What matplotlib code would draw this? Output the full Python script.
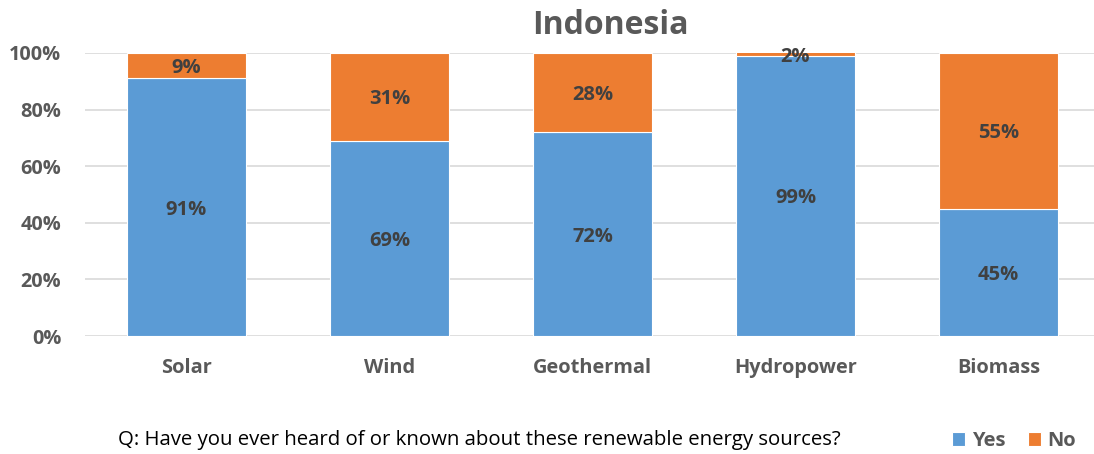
import numpy as np
import matplotlib.pyplot as plt

plt.rcParams['font.family'] = ['Open Sans', 'DejaVu Sans']

sources = ["Solar", "Wind", "Geothermal", "Hydropower", "Biomass"]
yes_pct = [91, 69, 72, 99, 45]
no_pct = [9, 31, 28, 2, 55]
yticks = [0, 20, 40, 60, 80, 100]

BLUE = "#5B9BD5"
ORANGE = "#ED7D31"
GRAY = "#595959"
DARK = "#404040"

fig = plt.figure(figsize=(10.94, 4.54), dpi=100)
ax = fig.add_axes([85 / 1094, 118 / 454, 1015 / 1094, 283 / 454])

x = np.arange(len(sources))
width = 0.586
yes = np.array(yes_pct, dtype=float)
no = np.array(no_pct, dtype=float)

ax.bar(x, yes, width, color=BLUE, edgecolor="white", linewidth=0.8, zorder=2, label="Yes")
ax.bar(x, no, width, bottom=yes, color=ORANGE, edgecolor="white", linewidth=0.8, zorder=2, label="No")

ax.set_xlim(-0.5, len(sources) - 0.5)
ax.set_ylim(0, 100)

# labels sit in the middle of the visible part of each segment
for i in range(len(sources)):
    ax.text(x[i], yes[i] / 2, f"{yes_pct[i]}%", ha="center", va="center_baseline",
            fontsize=14.5, fontweight="bold", color=DARK, zorder=3)
    lo = min(yes[i], 100)
    hi = min(yes[i] + no[i], 100)
    ax.text(x[i], (lo + hi) / 2, f"{no_pct[i]}%", ha="center", va="center_baseline",
            fontsize=14.5, fontweight="bold", color=DARK, zorder=3)

ax.set_yticks(yticks)
ax.set_yticklabels([f"{t}%" for t in yticks], fontsize=14.3, fontweight="bold", color=GRAY)
ax.set_xticks(x)
ax.set_xticklabels(sources, fontsize=14.4, fontweight="bold", color=GRAY)
ax.tick_params(length=0)
ax.tick_params(axis="y", pad=17)
ax.tick_params(axis="x", pad=16)
ax.grid(axis="y", color="#D9D9D9", linewidth=1.2, zorder=0)
for s in ax.spines.values():
    s.set_visible(False)

fig.text(610 / 1094, 1 - 26 / 454, "Indonesia", ha="center", va="center",
         fontsize=23, fontweight="bold", color=GRAY)
fig.text(118 / 1094, 1 - 440 / 454,
         "Q: Have you ever heard of or known about these renewable energy sources?",
         ha="left", va="center", fontsize=14.7, color="black")

fig.legend(loc="center", bbox_to_anchor=(1014 / 1094, 1 - 441 / 454), ncol=2,
           frameon=False, prop={"size": 14.5, "weight": "bold"}, handlelength=0.65,
           handleheight=0.65, columnspacing=1.1, handletextpad=0.35, labelcolor=GRAY)

fig.savefig("out.png", dpi=100)
